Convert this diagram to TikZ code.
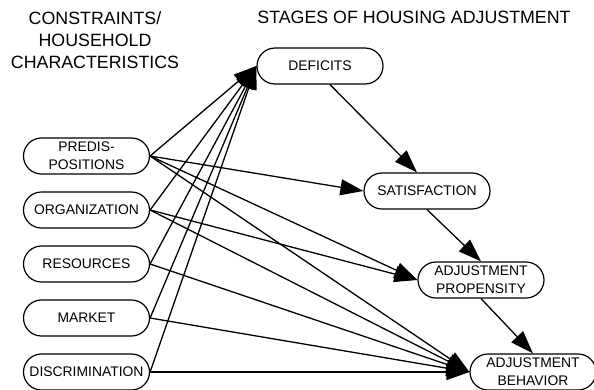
\documentclass[tikz,border=0pt]{standalone}
\usepackage{fontspec}
\setmainfont{Liberation Sans}
\usetikzlibrary{arrows.meta}

\tikzset{
  stage/.style={draw, line width=1.2pt, rounded corners=18pt, minimum width=126pt,
    minimum height=36pt, inner sep=0pt, align=center,
    font=\fontsize{13.9}{18}\selectfont},
  head/.style={align=center, inner sep=0pt, font=\fontsize{17.8}{22}\selectfont},
  link/.style={line width=1.3pt, -{Triangle[length=23pt,width=16pt]}}
}

\begin{document}
\begin{tikzpicture}[x=1pt,y=-1pt]
\useasboundingbox (0,0) rectangle (594,389);

\node[head, anchor=north] (constr) at (95,11) {CONSTRAINTS/\\HOUSEHOLD\\CHARACTERISTICS};
\node[head, anchor=north] (stages) at (414,11) {STAGES OF HOUSING ADJUSTMENT};

% household characteristics
\node[stage] (predis) at (86.5,156) {PREDIS-\\POSITIONS};
\node[stage] (organ) at (86.5,210) {ORGANIZATION};
\node[stage] (resour) at (86.5,264) {RESOURCES};
\node[stage] (market) at (86.5,318) {MARKET};
\node[stage] (discrim) at (86.5,372) {DISCRIMINATION};

% stages of adjustment
\node[stage] (deficits) at (320,66) {DEFICITS};
\node[stage] (satisf) at (427,191) {SATISFACTION};
\node[stage] (propens) at (481,280) {ADJUSTMENT\\PROPENSITY};
\node[stage] (behav) at (533,372) {ADJUSTMENT\\BEHAVIOR};

\foreach \c in {predis,organ,resour,market,discrim}{
  \draw[link] (\c.east) -- (deficits.west);
  \draw[link] (\c.east) -- (behav.west);
}
\draw[link] (predis.east) -- (satisf.west);
\draw[link] (predis.east) -- (propens.west);
\draw[link] (organ.east) -- (propens.west);

\draw[link] ([xshift=10pt]deficits.south) -- ([xshift=-10pt]satisf.north);
\draw[link] (satisf.south) -- (propens.north);
\draw[link] (propens.south) -- (behav.north);
\end{tikzpicture}
\end{document}
